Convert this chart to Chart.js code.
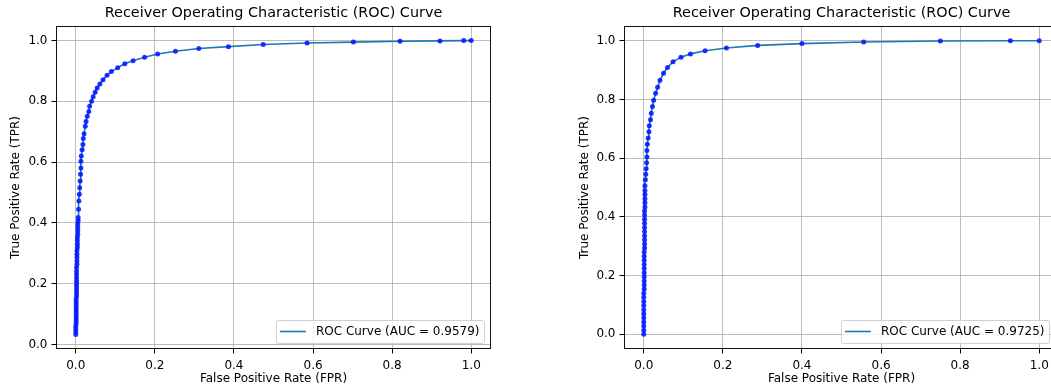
<!DOCTYPE html>
<html>
<head>
<meta charset="utf-8">
<script src="https://cdn.jsdelivr.net/npm/chart.js@4.4.1/dist/chart.umd.min.js"></script>
<style>
  html, body { margin: 0; padding: 0; background: #fff; overflow: hidden; }
  body { width: 1051px; height: 391px; position: relative; }
  canvas { position: absolute; top: 0; }
  #rocA { left: 0; }
  #rocB { left: 530px; }
</style>
</head>
<body>
<canvas id="rocA" width="525" height="391"></canvas>
<canvas id="rocB" width="545" height="391"></canvas>
<script>
// ---- data ----
const xTicks = [0, 0.2, 0.4, 0.6, 0.8, 1.0];
const yTicks = [0, 0.2, 0.4, 0.6, 0.8, 1.0];

const fprA = [0.000, 0.000, 0.000, 0.000, 0.001, 0.001, 0.001, 0.001, 0.001, 0.001,
  0.001, 0.001, 0.001, 0.001, 0.002, 0.002, 0.002, 0.002, 0.002, 0.002,
  0.002, 0.002, 0.002, 0.002, 0.003, 0.003, 0.003, 0.003, 0.003, 0.004,
  0.004, 0.004, 0.004, 0.005, 0.005, 0.005, 0.005, 0.006, 0.006, 0.007,
  0.008, 0.009, 0.010, 0.011, 0.012, 0.013, 0.013, 0.014, 0.016, 0.018,
  0.019, 0.021, 0.024, 0.026, 0.029, 0.033, 0.035, 0.040, 0.044, 0.049,
  0.054, 0.061, 0.069, 0.079, 0.090, 0.106, 0.124, 0.145, 0.174, 0.207,
  0.252, 0.311, 0.386, 0.474, 0.585, 0.702, 0.820, 0.921, 0.981, 1.000];
const tprA = [0.033, 0.042, 0.051, 0.060, 0.069, 0.078, 0.087, 0.096, 0.105, 0.114,
  0.123, 0.132, 0.141, 0.150, 0.160, 0.170, 0.180, 0.190, 0.200, 0.210,
  0.220, 0.231, 0.242, 0.253, 0.264, 0.275, 0.286, 0.297, 0.308, 0.319,
  0.330, 0.341, 0.352, 0.363, 0.374, 0.385, 0.396, 0.407, 0.418, 0.445,
  0.472, 0.494, 0.516, 0.538, 0.560, 0.581, 0.603, 0.620, 0.641, 0.658,
  0.678, 0.693, 0.718, 0.734, 0.751, 0.767, 0.784, 0.800, 0.815, 0.830,
  0.844, 0.857, 0.871, 0.886, 0.898, 0.911, 0.924, 0.934, 0.945, 0.956,
  0.965, 0.974, 0.980, 0.987, 0.992, 0.995, 0.998, 0.999, 1.000, 1.000];
const aucA = '0.9579';

const fprB = [0.000, 0.000, 0.000, 0.000, 0.000, 0.000, 0.000, 0.000, 0.000, 0.000,
  0.000, 0.001, 0.001, 0.001, 0.001, 0.001, 0.001, 0.001, 0.001, 0.001,
  0.001, 0.002, 0.002, 0.002, 0.002, 0.002, 0.002, 0.002, 0.002, 0.002,
  0.002, 0.003, 0.003, 0.003, 0.003, 0.003, 0.003, 0.004, 0.005, 0.006,
  0.007, 0.008, 0.008, 0.009, 0.011, 0.013, 0.014, 0.017, 0.019, 0.022,
  0.025, 0.030, 0.035, 0.041, 0.050, 0.060, 0.074, 0.094, 0.118, 0.155,
  0.209, 0.288, 0.400, 0.556, 0.750, 0.927, 1.000];
const tprB = [0.000, 0.014, 0.028, 0.042, 0.056, 0.070, 0.084, 0.098, 0.112, 0.126,
  0.140, 0.154, 0.168, 0.182, 0.196, 0.210, 0.224, 0.238, 0.252, 0.266,
  0.280, 0.294, 0.308, 0.322, 0.336, 0.350, 0.364, 0.378, 0.392, 0.406,
  0.420, 0.434, 0.448, 0.462, 0.476, 0.490, 0.506, 0.526, 0.545, 0.564,
  0.584, 0.604, 0.626, 0.647, 0.669, 0.690, 0.710, 0.731, 0.753, 0.776,
  0.797, 0.821, 0.841, 0.865, 0.889, 0.909, 0.928, 0.944, 0.955, 0.966,
  0.975, 0.984, 0.990, 0.9955, 0.999, 1.000, 1.000];
const aucB = '0.9725';

const FONT = 'DejaVu Sans, sans-serif';
const C0 = '#1f77b4';

// full box around the axes, like matplotlib spines
const frame = {
  id: 'frame',
  afterDraw(chart) {
    const { ctx, chartArea: a } = chart;
    ctx.save();
    ctx.strokeStyle = '#111';
    ctx.lineWidth = 1;
    ctx.strokeRect(Math.round(a.left) + 0.5, Math.round(a.top) + 0.5,
      Math.round(a.right - a.left) - 1, Math.round(a.bottom - a.top) - 1);
    ctx.restore();
  }
};

// legend box in the lower right corner of the axes
const cornerLegend = {
  id: 'cornerLegend',
  afterDraw(chart, args, opts) {
    const { ctx, chartArea: a } = chart;
    const ds = chart.data.datasets[1];
    ctx.save();
    ctx.font = '12px ' + FONT;
    const tw = ctx.measureText(ds.label).width;
    const w = 4 + 26 + 10 + tw + 4.5, h = 23;
    const x = a.right - opts.inset - w, y = a.bottom - 6 - h;
    ctx.beginPath();
    ctx.roundRect(x + 0.5, y + 0.5, w, h, 2.5);
    ctx.fillStyle = 'rgba(255,255,255,0.8)';
    ctx.fill();
    ctx.strokeStyle = '#d0d0d0';
    ctx.lineWidth = 1;
    ctx.stroke();
    ctx.beginPath();
    ctx.moveTo(x + 4, y + h / 2);
    ctx.lineTo(x + 30, y + h / 2);
    ctx.strokeStyle = ds.borderColor;
    ctx.lineWidth = 1.6;
    ctx.stroke();
    ctx.fillStyle = '#000';
    ctx.textBaseline = 'middle';
    ctx.fillText(ds.label, x + 40, y + h / 2 + 0.5);
    ctx.restore();
  }
};

function axis(min, max, ticks, title, fit, titlePad, tickPad) {
  return {
    type: 'linear',
    min: min,
    max: max,
    afterBuildTicks: s => { s.ticks = ticks.map(v => ({ value: v })); },
    afterFit: fit,
    ticks: {
      callback: v => v.toFixed(1),
      font: { family: FONT, size: 12, lineHeight: 1 },
      color: '#000',
      padding: tickPad
    },
    grid: { color: 'rgba(176,176,176,0.85)', lineWidth: 1, tickColor: '#000', tickLength: 4.5 },
    border: { display: false },
    title: {
      display: true,
      text: title,
      color: '#000',
      font: { family: FONT, size: 12, lineHeight: 1.2 },
      padding: titlePad
    }
  };
}

function rocChart(id, fpr, tpr, auc, yMin, yMax, axisLeft, rightPad, yTitleX, inset) {
  const pts = fpr.map((f, i) => ({ x: f, y: tpr[i] }));
  return new Chart(document.getElementById(id), {
    type: 'scatter',
    data: {
      datasets: [
        {
          label: 'points',
          data: pts,
          showLine: false,
          pointRadius: 2.5,
          pointBorderWidth: 0,
          pointBackgroundColor: 'rgba(0,20,255,0.85)',
          order: 0
        },
        {
          label: 'ROC Curve (AUC = ' + auc + ')',
          data: pts,
          showLine: true,
          borderColor: C0,
          borderWidth: 1.6,
          pointRadius: 0,
          order: 1
        }
      ]
    },
    options: {
      responsive: false,
      animation: false,
      events: [],
      layout: { padding: { left: 0, right: rightPad, top: 0, bottom: 0 } },
      plugins: {
        legend: { display: false },
        tooltip: { enabled: false },
        title: {
          display: true,
          fullSize: false,
          text: 'Receiver Operating Characteristic (ROC) Curve',
          color: '#000',
          font: { family: FONT, size: 14.4, weight: 'normal', lineHeight: 1.2 },
          padding: { top: 5, bottom: 3.72 }
        },
        cornerLegend: { inset: inset }
      },
      scales: {
        x: axis(-0.05, 1.05, xTicks, 'False Positive Rate (FPR)',
          s => { s.height = 42; }, { top: 0, bottom: 5 }, 6.4),
        y: axis(yMin, yMax, yTicks, 'True Positive Rate (TPR)',
          s => { s.width = axisLeft; }, { top: yTitleX - 7.2, bottom: 0 }, 4)
      }
    },
    plugins: [frame, cornerLegend]
  });
}

rocChart('rocA', fprA, tprA, aucA, -0.015, 1.048, 56, 34, 16.3, 7);
rocChart('rocB', fprB, tprB, aucB, -0.05, 1.05, 94, 16, 54.7, 10);
</script>
</body>
</html>
